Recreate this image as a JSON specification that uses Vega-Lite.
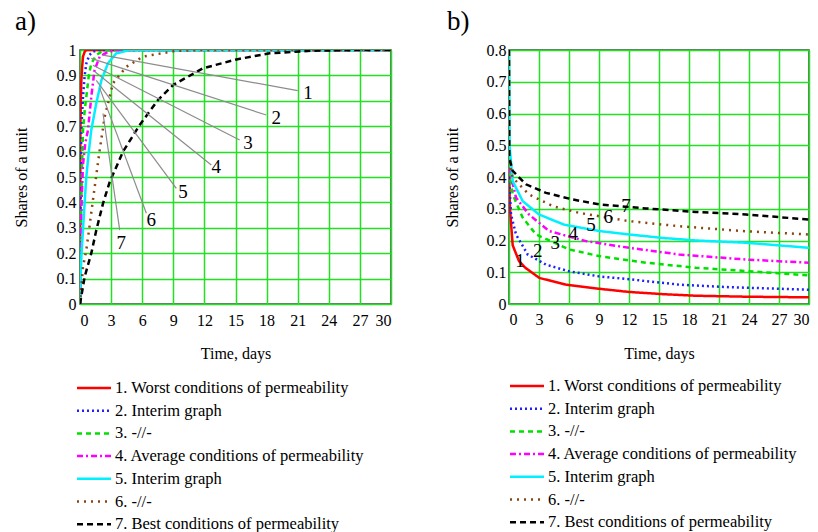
{
  "$schema": "https://vega.github.io/schema/vega-lite/v6.json",
  "padding": {"left": 12, "top": 7, "right": 4, "bottom": 2},
  "background": "white",
  "config": {
    "font": "Liberation Serif",
    "view": {"stroke": "#404040", "strokeWidth": 1.5},
    "axis": {
      "labelFont": "Liberation Serif", "labelFontSize": 16, "labelColor": "#000",
      "titleFont": "Liberation Serif", "titleFontSize": 16, "titleFontWeight": "normal", "titleColor": "#000",
      "grid": true, "gridColor": "#22e022", "gridWidth": 1.5, "gridOpacity": 1,
      "ticks": false, "domain": false
    },
    "legend": {
      "orient": "none", "direction": "vertical", "title": null,
      "labelFont": "Liberation Serif", "labelFontSize": 16.5, "labelColor": "#000", "labelLimit": 400,
      "symbolType": "M-2,0H2", "symbolSize": 289, "symbolStrokeWidth": 2.5, "labelOffset": 11, "rowPadding": 3.7
    },
    "title": {"font": "Liberation Serif", "fontSize": 27, "fontWeight": "normal", "color": "#000", "anchor": "start", "frame": "group"}
  },
  "bounds": "flush",
  "spacing": 118,
  "resolve": {
    "scale": {"color": "independent", "strokeDash": "independent", "x": "independent", "y": "independent"},
    "legend": {"color": "independent", "strokeDash": "independent"}
  },
  "datasets": {
    "curvesA": [
      {"s": "1. Worst conditions of permeability", "x": 0, "y": 0},
      {"s": "1. Worst conditions of permeability", "x": 0.01, "y": 0.3},
      {"s": "1. Worst conditions of permeability", "x": 0.03, "y": 0.685},
      {"s": "1. Worst conditions of permeability", "x": 0.08, "y": 0.8},
      {"s": "1. Worst conditions of permeability", "x": 0.13, "y": 0.88},
      {"s": "1. Worst conditions of permeability", "x": 0.2, "y": 0.93},
      {"s": "1. Worst conditions of permeability", "x": 0.29, "y": 0.974},
      {"s": "1. Worst conditions of permeability", "x": 0.45, "y": 0.993},
      {"s": "1. Worst conditions of permeability", "x": 0.6, "y": 1},
      {"s": "1. Worst conditions of permeability", "x": 30, "y": 1},
      {"s": "2. Interim graph", "x": 0, "y": 0},
      {"s": "2. Interim graph", "x": 0.03, "y": 0.3},
      {"s": "2. Interim graph", "x": 0.08, "y": 0.55},
      {"s": "2. Interim graph", "x": 0.13, "y": 0.685},
      {"s": "2. Interim graph", "x": 0.29, "y": 0.816},
      {"s": "2. Interim graph", "x": 0.45, "y": 0.9},
      {"s": "2. Interim graph", "x": 0.61, "y": 0.947},
      {"s": "2. Interim graph", "x": 0.9, "y": 0.98},
      {"s": "2. Interim graph", "x": 1.25, "y": 0.993},
      {"s": "2. Interim graph", "x": 1.8, "y": 1},
      {"s": "2. Interim graph", "x": 30, "y": 1},
      {"s": "3. -//-", "x": 0, "y": 0},
      {"s": "3. -//-", "x": 0.05, "y": 0.2},
      {"s": "3. -//-", "x": 0.12, "y": 0.4},
      {"s": "3. -//-", "x": 0.2, "y": 0.55},
      {"s": "3. -//-", "x": 0.29, "y": 0.685},
      {"s": "3. -//-", "x": 0.45, "y": 0.76},
      {"s": "3. -//-", "x": 0.61, "y": 0.816},
      {"s": "3. -//-", "x": 0.85, "y": 0.9},
      {"s": "3. -//-", "x": 1.09, "y": 0.947},
      {"s": "3. -//-", "x": 1.57, "y": 0.98},
      {"s": "3. -//-", "x": 2.2, "y": 0.997},
      {"s": "3. -//-", "x": 3, "y": 1},
      {"s": "3. -//-", "x": 30, "y": 1},
      {"s": "4. Average conditions of permeability", "x": 0, "y": 0},
      {"s": "4. Average conditions of permeability", "x": 0.06, "y": 0.2},
      {"s": "4. Average conditions of permeability", "x": 0.15, "y": 0.4},
      {"s": "4. Average conditions of permeability", "x": 0.29, "y": 0.55},
      {"s": "4. Average conditions of permeability", "x": 0.5, "y": 0.63},
      {"s": "4. Average conditions of permeability", "x": 0.77, "y": 0.685},
      {"s": "4. Average conditions of permeability", "x": 1.09, "y": 0.816},
      {"s": "4. Average conditions of permeability", "x": 1.4, "y": 0.92},
      {"s": "4. Average conditions of permeability", "x": 1.9, "y": 0.974},
      {"s": "4. Average conditions of permeability", "x": 2.6, "y": 0.99},
      {"s": "4. Average conditions of permeability", "x": 3.5, "y": 1},
      {"s": "4. Average conditions of permeability", "x": 30, "y": 1},
      {"s": "5. Interim graph", "x": 0, "y": 0},
      {"s": "5. Interim graph", "x": 0.05, "y": 0.1},
      {"s": "5. Interim graph", "x": 0.15, "y": 0.2},
      {"s": "5. Interim graph", "x": 0.27, "y": 0.28},
      {"s": "5. Interim graph", "x": 0.45, "y": 0.4},
      {"s": "5. Interim graph", "x": 0.61, "y": 0.5},
      {"s": "5. Interim graph", "x": 0.85, "y": 0.6},
      {"s": "5. Interim graph", "x": 1.09, "y": 0.685},
      {"s": "5. Interim graph", "x": 1.57, "y": 0.79},
      {"s": "5. Interim graph", "x": 2.06, "y": 0.88},
      {"s": "5. Interim graph", "x": 2.7, "y": 0.948},
      {"s": "5. Interim graph", "x": 3.5, "y": 0.987},
      {"s": "5. Interim graph", "x": 4.8, "y": 1},
      {"s": "5. Interim graph", "x": 30, "y": 1},
      {"s": "6. -//-", "x": 0, "y": 0},
      {"s": "6. -//-", "x": 0.29, "y": 0.147},
      {"s": "6. -//-", "x": 0.61, "y": 0.213},
      {"s": "6. -//-", "x": 0.9, "y": 0.3},
      {"s": "6. -//-", "x": 1.25, "y": 0.41},
      {"s": "6. -//-", "x": 1.9, "y": 0.606},
      {"s": "6. -//-", "x": 2.38, "y": 0.737},
      {"s": "6. -//-", "x": 3.18, "y": 0.869},
      {"s": "6. -//-", "x": 4.47, "y": 0.934},
      {"s": "6. -//-", "x": 6.08, "y": 0.974},
      {"s": "6. -//-", "x": 9.3, "y": 0.997},
      {"s": "6. -//-", "x": 12, "y": 1},
      {"s": "6. -//-", "x": 30, "y": 1},
      {"s": "7. Best conditions of permeability", "x": 0, "y": 0},
      {"s": "7. Best conditions of permeability", "x": 0.45, "y": 0.107},
      {"s": "7. Best conditions of permeability", "x": 1.09, "y": 0.2},
      {"s": "7. Best conditions of permeability", "x": 1.57, "y": 0.29},
      {"s": "7. Best conditions of permeability", "x": 2.22, "y": 0.396},
      {"s": "7. Best conditions of permeability", "x": 2.86, "y": 0.48},
      {"s": "7. Best conditions of permeability", "x": 4.15, "y": 0.6},
      {"s": "7. Best conditions of permeability", "x": 5.76, "y": 0.705},
      {"s": "7. Best conditions of permeability", "x": 7.52, "y": 0.803},
      {"s": "7. Best conditions of permeability", "x": 8.97, "y": 0.862},
      {"s": "7. Best conditions of permeability", "x": 11.86, "y": 0.928},
      {"s": "7. Best conditions of permeability", "x": 15.1, "y": 0.963},
      {"s": "7. Best conditions of permeability", "x": 18.3, "y": 0.987},
      {"s": "7. Best conditions of permeability", "x": 22.3, "y": 0.997},
      {"s": "7. Best conditions of permeability", "x": 27, "y": 1},
      {"s": "7. Best conditions of permeability", "x": 30, "y": 1}
    ],
    "leadersA": [
      {"x": 2.22, "y": 0.98, "x2": 21.0, "y2": 0.84},
      {"x": 1.09, "y": 0.967, "x2": 17.97, "y2": 0.744},
      {"x": 1.25, "y": 0.94, "x2": 15.4, "y2": 0.646},
      {"x": 1.41, "y": 0.915, "x2": 12.67, "y2": 0.547},
      {"x": 1.57, "y": 0.88, "x2": 9.29, "y2": 0.455},
      {"x": 1.9, "y": 0.85, "x2": 6.4, "y2": 0.357},
      {"x": 2.22, "y": 0.75, "x2": 3.83, "y2": 0.291}
    ],
    "labelsA": [
      {"x": 22.0, "y": 0.832, "t": "1"},
      {"x": 18.94, "y": 0.731, "t": "2"},
      {"x": 16.2, "y": 0.633, "t": "3"},
      {"x": 13.15, "y": 0.54, "t": "4"},
      {"x": 9.94, "y": 0.442, "t": "5"},
      {"x": 6.88, "y": 0.331, "t": "6"},
      {"x": 3.98, "y": 0.239, "t": "7"}
    ],
    "curvesB": [
      {"s": "1. Worst conditions of permeability", "x": 0, "y": 0.42},
      {"s": "1. Worst conditions of permeability", "x": 0.1, "y": 0.3},
      {"s": "1. Worst conditions of permeability", "x": 0.37, "y": 0.185},
      {"s": "1. Worst conditions of permeability", "x": 1.0, "y": 0.135},
      {"s": "1. Worst conditions of permeability", "x": 1.64, "y": 0.114},
      {"s": "1. Worst conditions of permeability", "x": 3.04, "y": 0.082},
      {"s": "1. Worst conditions of permeability", "x": 5.7, "y": 0.061},
      {"s": "1. Worst conditions of permeability", "x": 8.7, "y": 0.049},
      {"s": "1. Worst conditions of permeability", "x": 12, "y": 0.038},
      {"s": "1. Worst conditions of permeability", "x": 15.4, "y": 0.031},
      {"s": "1. Worst conditions of permeability", "x": 18.7, "y": 0.026},
      {"s": "1. Worst conditions of permeability", "x": 23.7, "y": 0.023},
      {"s": "1. Worst conditions of permeability", "x": 30, "y": 0.021},
      {"s": "2. Interim graph", "x": 0, "y": 0.4},
      {"s": "2. Interim graph", "x": 0.2, "y": 0.282},
      {"s": "2. Interim graph", "x": 0.7, "y": 0.219},
      {"s": "2. Interim graph", "x": 1.87, "y": 0.156},
      {"s": "2. Interim graph", "x": 3.7, "y": 0.124},
      {"s": "2. Interim graph", "x": 6, "y": 0.103},
      {"s": "2. Interim graph", "x": 9, "y": 0.087},
      {"s": "2. Interim graph", "x": 12, "y": 0.078},
      {"s": "2. Interim graph", "x": 17, "y": 0.061},
      {"s": "2. Interim graph", "x": 22, "y": 0.053},
      {"s": "2. Interim graph", "x": 30, "y": 0.045},
      {"s": "3. -//-", "x": 0, "y": 0.42},
      {"s": "3. -//-", "x": 0.37, "y": 0.345},
      {"s": "3. -//-", "x": 1.37, "y": 0.272},
      {"s": "3. -//-", "x": 2.7, "y": 0.219},
      {"s": "3. -//-", "x": 6, "y": 0.172},
      {"s": "3. -//-", "x": 9, "y": 0.151},
      {"s": "3. -//-", "x": 13.7, "y": 0.13},
      {"s": "3. -//-", "x": 18.7, "y": 0.114},
      {"s": "3. -//-", "x": 23.7, "y": 0.104},
      {"s": "3. -//-", "x": 30, "y": 0.09},
      {"s": "4. Average conditions of permeability", "x": 0, "y": 0.43},
      {"s": "4. Average conditions of permeability", "x": 0.7, "y": 0.335},
      {"s": "4. Average conditions of permeability", "x": 2, "y": 0.282},
      {"s": "4. Average conditions of permeability", "x": 4, "y": 0.23},
      {"s": "4. Average conditions of permeability", "x": 7.7, "y": 0.198},
      {"s": "4. Average conditions of permeability", "x": 12, "y": 0.177},
      {"s": "4. Average conditions of permeability", "x": 17, "y": 0.156},
      {"s": "4. Average conditions of permeability", "x": 23.7, "y": 0.14},
      {"s": "4. Average conditions of permeability", "x": 30, "y": 0.13},
      {"s": "5. Interim graph", "x": 0, "y": 0.8},
      {"s": "5. Interim graph", "x": 0.05, "y": 0.5},
      {"s": "5. Interim graph", "x": 0.37, "y": 0.387},
      {"s": "5. Interim graph", "x": 1.37, "y": 0.324},
      {"s": "5. Interim graph", "x": 3, "y": 0.282},
      {"s": "5. Interim graph", "x": 5.5, "y": 0.25},
      {"s": "5. Interim graph", "x": 9, "y": 0.23},
      {"s": "5. Interim graph", "x": 12, "y": 0.219},
      {"s": "5. Interim graph", "x": 15.4, "y": 0.208},
      {"s": "5. Interim graph", "x": 18.7, "y": 0.2},
      {"s": "5. Interim graph", "x": 23.7, "y": 0.193},
      {"s": "5. Interim graph", "x": 30, "y": 0.177},
      {"s": "6. -//-", "x": 0, "y": 0.45},
      {"s": "6. -//-", "x": 0.37, "y": 0.398},
      {"s": "6. -//-", "x": 2, "y": 0.345},
      {"s": "6. -//-", "x": 4.4, "y": 0.308},
      {"s": "6. -//-", "x": 7, "y": 0.287},
      {"s": "6. -//-", "x": 12, "y": 0.261},
      {"s": "6. -//-", "x": 17, "y": 0.245},
      {"s": "6. -//-", "x": 23.7, "y": 0.229},
      {"s": "6. -//-", "x": 30, "y": 0.219},
      {"s": "7. Best conditions of permeability", "x": 0, "y": 0.8},
      {"s": "7. Best conditions of permeability", "x": 0.03, "y": 0.46},
      {"s": "7. Best conditions of permeability", "x": 0.37, "y": 0.419},
      {"s": "7. Best conditions of permeability", "x": 1.7, "y": 0.377},
      {"s": "7. Best conditions of permeability", "x": 3.7, "y": 0.35},
      {"s": "7. Best conditions of permeability", "x": 6.4, "y": 0.329},
      {"s": "7. Best conditions of permeability", "x": 9, "y": 0.314},
      {"s": "7. Best conditions of permeability", "x": 13.7, "y": 0.301},
      {"s": "7. Best conditions of permeability", "x": 18.7, "y": 0.29},
      {"s": "7. Best conditions of permeability", "x": 23.7, "y": 0.282},
      {"s": "7. Best conditions of permeability", "x": 30, "y": 0.266}
    ],
    "labelsB": [
      {"x": 1.1, "y": 0.135, "t": "1"},
      {"x": 2.87, "y": 0.166, "t": "2"},
      {"x": 4.63, "y": 0.193, "t": "3"},
      {"x": 6.43, "y": 0.221, "t": "4"},
      {"x": 8.2, "y": 0.248, "t": "5"},
      {"x": 9.93, "y": 0.275, "t": "6"},
      {"x": 11.7, "y": 0.308, "t": "7"}
    ]
  },
  "hconcat": [
    {
      "width": 311, "height": 254,
      "title": {"text": "a)", "dx": -65, "dy": -2},
      "encoding": {
        "x": {"field": "x", "type": "quantitative", "scale": {"domain": [0, 30], "nice": false, "zero": false},
              "axis": {"values": [0, 3, 6, 9, 12, 15, 18, 21, 24, 27, 30], "title": "Time, days", "labelPadding": 8, "titlePadding": 17}},
        "y": {"field": "y", "type": "quantitative", "scale": {"domain": [0, 1], "nice": false},
              "axis": {"values": [0, 0.1, 0.2, 0.3, 0.4, 0.5, 0.6, 0.7, 0.8, 0.9, 1], "format": ".1~f", "title": "Shares of a unit", "labelPadding": 4, "titlePadding": 27}}
      },
      "layer": [
        {
          "data": {"name": "curvesA"},
          "mark": {"type": "line", "strokeWidth": 2.5, "clip": true},
          "encoding": {
            "color": {"field": "s", "type": "nominal",
              "scale": {"domain": ["1. Worst conditions of permeability", "2. Interim graph", "3. -//-", "4. Average conditions of permeability", "5. Interim graph", "6. -//-", "7. Best conditions of permeability"],
                        "range": ["#ff0000", "#2020ff", "#00e000", "#ff00ff", "#00f0ff", "#8b4513", "#000000"]},
              "legend": {"legendX": 4, "legendY": 328}},
            "strokeDash": {"field": "s", "type": "nominal",
              "scale": {"domain": ["1. Worst conditions of permeability", "2. Interim graph", "3. -//-", "4. Average conditions of permeability", "5. Interim graph", "6. -//-", "7. Best conditions of permeability"],
                        "range": [[1, 0], [2, 3], [5, 4], [6, 3, 2, 3], [1, 0], [2, 5], [6, 4]]},
              "legend": {"legendX": 4, "legendY": 328}}
          }
        },
        {
          "data": {"name": "leadersA"},
          "mark": {"type": "rule", "color": "#8c8c8c", "strokeWidth": 1.2},
          "encoding": {"x2": {"field": "x2"}, "y2": {"field": "y2"}}
        },
        {
          "data": {"name": "labelsA"},
          "mark": {"type": "text", "fontSize": 19, "font": "Liberation Serif", "color": "#000", "align": "center", "baseline": "middle"},
          "encoding": {"text": {"field": "t"}}
        }
      ]
    },
    {
      "width": 300, "height": 254,
      "title": {"text": "b)", "dx": -62, "dy": -2},
      "encoding": {
        "x": {"field": "x", "type": "quantitative", "scale": {"domain": [0, 30], "nice": false, "zero": false},
              "axis": {"values": [0, 3, 6, 9, 12, 15, 18, 21, 24, 27, 30], "title": "Time, days", "labelPadding": 7, "titlePadding": 18}},
        "y": {"field": "y", "type": "quantitative", "scale": {"domain": [0, 0.8], "nice": false},
              "axis": {"values": [0, 0.1, 0.2, 0.3, 0.4, 0.5, 0.6, 0.7, 0.8], "format": ".1~f", "title": "Shares of a unit", "labelPadding": 3, "titlePadding": 26}}
      },
      "layer": [
        {
          "data": {"name": "curvesB"},
          "mark": {"type": "line", "strokeWidth": 2.5, "clip": true},
          "encoding": {
            "color": {"field": "s", "type": "nominal",
              "scale": {"domain": ["1. Worst conditions of permeability", "2. Interim graph", "3. -//-", "4. Average conditions of permeability", "5. Interim graph", "6. -//-", "7. Best conditions of permeability"],
                        "range": ["#ff0000", "#2020ff", "#00e000", "#ff00ff", "#00f0ff", "#8b4513", "#000000"]},
              "legend": {"legendX": 8, "legendY": 326}},
            "strokeDash": {"field": "s", "type": "nominal",
              "scale": {"domain": ["1. Worst conditions of permeability", "2. Interim graph", "3. -//-", "4. Average conditions of permeability", "5. Interim graph", "6. -//-", "7. Best conditions of permeability"],
                        "range": [[1, 0], [2, 3], [5, 4], [6, 3, 2, 3], [1, 0], [2, 5], [6, 4]]},
              "legend": {"legendX": 8, "legendY": 326}}
          }
        },
        {
          "data": {"name": "labelsB"},
          "mark": {"type": "text", "fontSize": 19, "font": "Liberation Serif", "color": "#000", "align": "center", "baseline": "middle"},
          "encoding": {"text": {"field": "t"}}
        }
      ]
    }
  ]
}
